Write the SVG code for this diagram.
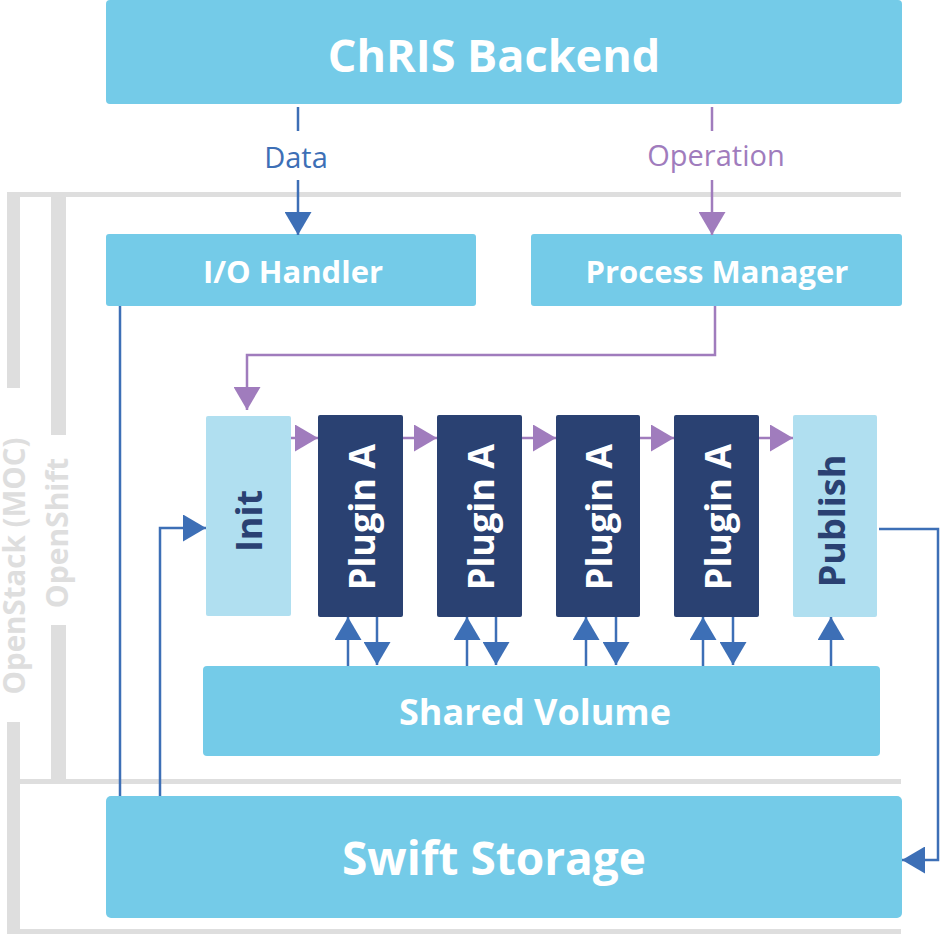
<svg xmlns="http://www.w3.org/2000/svg" width="941" height="934" viewBox="0 0 941 934">
<defs>
<style>
.frame{fill:#dedede}
.big{fill:#74cbe8}
.txt{font-family:"Open Sans","Liberation Sans",sans-serif;font-weight:bold;text-anchor:middle;dominant-baseline:central}
.vt{font-family:"Open Sans","Liberation Sans",sans-serif;font-weight:bold;text-anchor:middle}
.lbl{font-family:"Open Sans","Liberation Sans",sans-serif;font-size:29px;text-anchor:middle;dominant-baseline:central}
.w{fill:#ffffff}
.navy{fill:#2a4172}
.light{fill:#b0dff0}
.blue{stroke:#3d6fb6;stroke-width:2.5;fill:none}
.purple{stroke:#a07cbd;stroke-width:2.5;fill:none}
</style>
<marker id="ab" viewBox="0 0 23 27" refX="23" refY="13.5" markerWidth="23" markerHeight="27" markerUnits="userSpaceOnUse" orient="auto">
<path d="M0,0 L23,13.5 L0,27 Z" fill="#3d6fb6"/>
</marker>
<marker id="ap" viewBox="0 0 23 27" refX="23" refY="13.5" markerWidth="23" markerHeight="27" markerUnits="userSpaceOnUse" orient="auto">
<path d="M0,0 L23,13.5 L0,27 Z" fill="#a07cbd"/>
</marker>
</defs>
<rect width="941" height="934" fill="#ffffff"/>
<g id="frames">
<rect class="frame" x="7" y="192" width="894" height="5"/>
<rect class="frame" x="7" y="192" width="13" height="196"/>
<rect class="frame" x="7" y="722" width="13" height="212"/>
<rect class="frame" x="7" y="929" width="894" height="5"/>
<rect class="frame" x="51" y="192" width="15" height="243"/>
<rect class="frame" x="51" y="625" width="15" height="159"/>
<rect class="frame" x="20" y="779" width="881" height="5"/>
<text class="vt" transform="translate(25,566) rotate(-90)" font-size="29.5" fill="#dedede">OpenStack (MOC)</text>
<text class="vt" transform="translate(68,533) rotate(-90)" font-size="30" fill="#dedede">OpenShift</text>
</g>
<g id="chris-backend">
<rect class="big" x="106" y="0" width="796" height="104" rx="4"/>
<text class="txt w" x="494" y="54" font-size="45">ChRIS Backend</text>
</g>
<g id="io-handler">
<rect class="big" x="106" y="234" width="370" height="72" rx="3"/>
<text class="txt w" x="293" y="271" font-size="31">I/O Handler</text>
</g>
<g id="process-manager">
<rect class="big" x="531" y="234" width="371" height="72" rx="3"/>
<text class="txt w" x="717" y="271" font-size="31">Process Manager</text>
</g>
<g id="init">
<rect class="light" x="206" y="416" width="85" height="200" rx="2"/>
<text class="vt navy" transform="translate(262,521) rotate(-90)" font-size="36">Init</text>
</g>
<g id="plugin1">
<rect class="navy" x="318" y="415" width="85" height="202" rx="2"/>
<text class="vt w" transform="translate(375,517) rotate(-90)" font-size="36">Plugin A</text>
</g>
<g id="plugin2">
<rect class="navy" x="437" y="415" width="85" height="202" rx="2"/>
<text class="vt w" transform="translate(494,517) rotate(-90)" font-size="36">Plugin A</text>
</g>
<g id="plugin3">
<rect class="navy" x="556" y="415" width="84" height="202" rx="2"/>
<text class="vt w" transform="translate(612,517) rotate(-90)" font-size="36">Plugin A</text>
</g>
<g id="plugin4">
<rect class="navy" x="674" y="415" width="85" height="202" rx="2"/>
<text class="vt w" transform="translate(731,517) rotate(-90)" font-size="36">Plugin A</text>
</g>
<g id="publish">
<rect class="light" x="793" y="415" width="84" height="202" rx="2"/>
<text class="vt navy" transform="translate(845,521) rotate(-90)" font-size="36">Publish</text>
</g>
<g id="shared-volume">
<rect class="big" x="203" y="666" width="677" height="90" rx="4"/>
<text class="txt w" x="535" y="711" font-size="36">Shared Volume</text>
</g>
<g id="swift-storage">
<rect class="big" x="106" y="796" width="796" height="122" rx="5"/>
<text class="txt w" x="494" y="857" font-size="46">Swift Storage</text>
</g>
<g id="connectors">
<line class="blue" x1="298" y1="107" x2="298" y2="131"/>
<text class="lbl" x="296" y="156" fill="#3d6fb6">Data</text>
<line class="blue" x1="298" y1="180" x2="298" y2="235" marker-end="url(#ab)"/>
<line class="purple" x1="712" y1="107" x2="712" y2="131"/>
<text class="lbl" x="716" y="154" fill="#a07cbd">Operation</text>
<line class="purple" x1="712" y1="180" x2="712" y2="235" marker-end="url(#ap)"/>
<polyline class="purple" points="715,306 715,355 247,355 247,410" marker-end="url(#ap)"/>
<line class="purple" x1="291" y1="438" x2="318" y2="438" marker-end="url(#ap)"/>
<line class="purple" x1="403" y1="438" x2="437" y2="438" marker-end="url(#ap)"/>
<line class="purple" x1="522" y1="438" x2="556" y2="438" marker-end="url(#ap)"/>
<line class="purple" x1="640" y1="438" x2="674" y2="438" marker-end="url(#ap)"/>
<line class="purple" x1="759" y1="438" x2="793" y2="438" marker-end="url(#ap)"/>
<line class="blue" x1="348" y1="666" x2="348" y2="617" marker-end="url(#ab)"/>
<line class="blue" x1="377" y1="617" x2="377" y2="665" marker-end="url(#ab)"/>
<line class="blue" x1="467" y1="666" x2="467" y2="617" marker-end="url(#ab)"/>
<line class="blue" x1="496" y1="617" x2="496" y2="665" marker-end="url(#ab)"/>
<line class="blue" x1="586" y1="666" x2="586" y2="617" marker-end="url(#ab)"/>
<line class="blue" x1="616" y1="617" x2="616" y2="665" marker-end="url(#ab)"/>
<line class="blue" x1="703" y1="666" x2="703" y2="617" marker-end="url(#ab)"/>
<line class="blue" x1="733" y1="617" x2="733" y2="665" marker-end="url(#ab)"/>
<line class="blue" x1="831" y1="666" x2="831" y2="617" marker-end="url(#ab)"/>
<line class="blue" x1="120" y1="306" x2="120" y2="796"/>
<polyline class="blue" points="160,796 160,528 206,528" marker-end="url(#ab)"/>
<polyline class="blue" points="879,529 938,529 938,860 902,860" marker-end="url(#ab)"/>
</g>
</svg>
